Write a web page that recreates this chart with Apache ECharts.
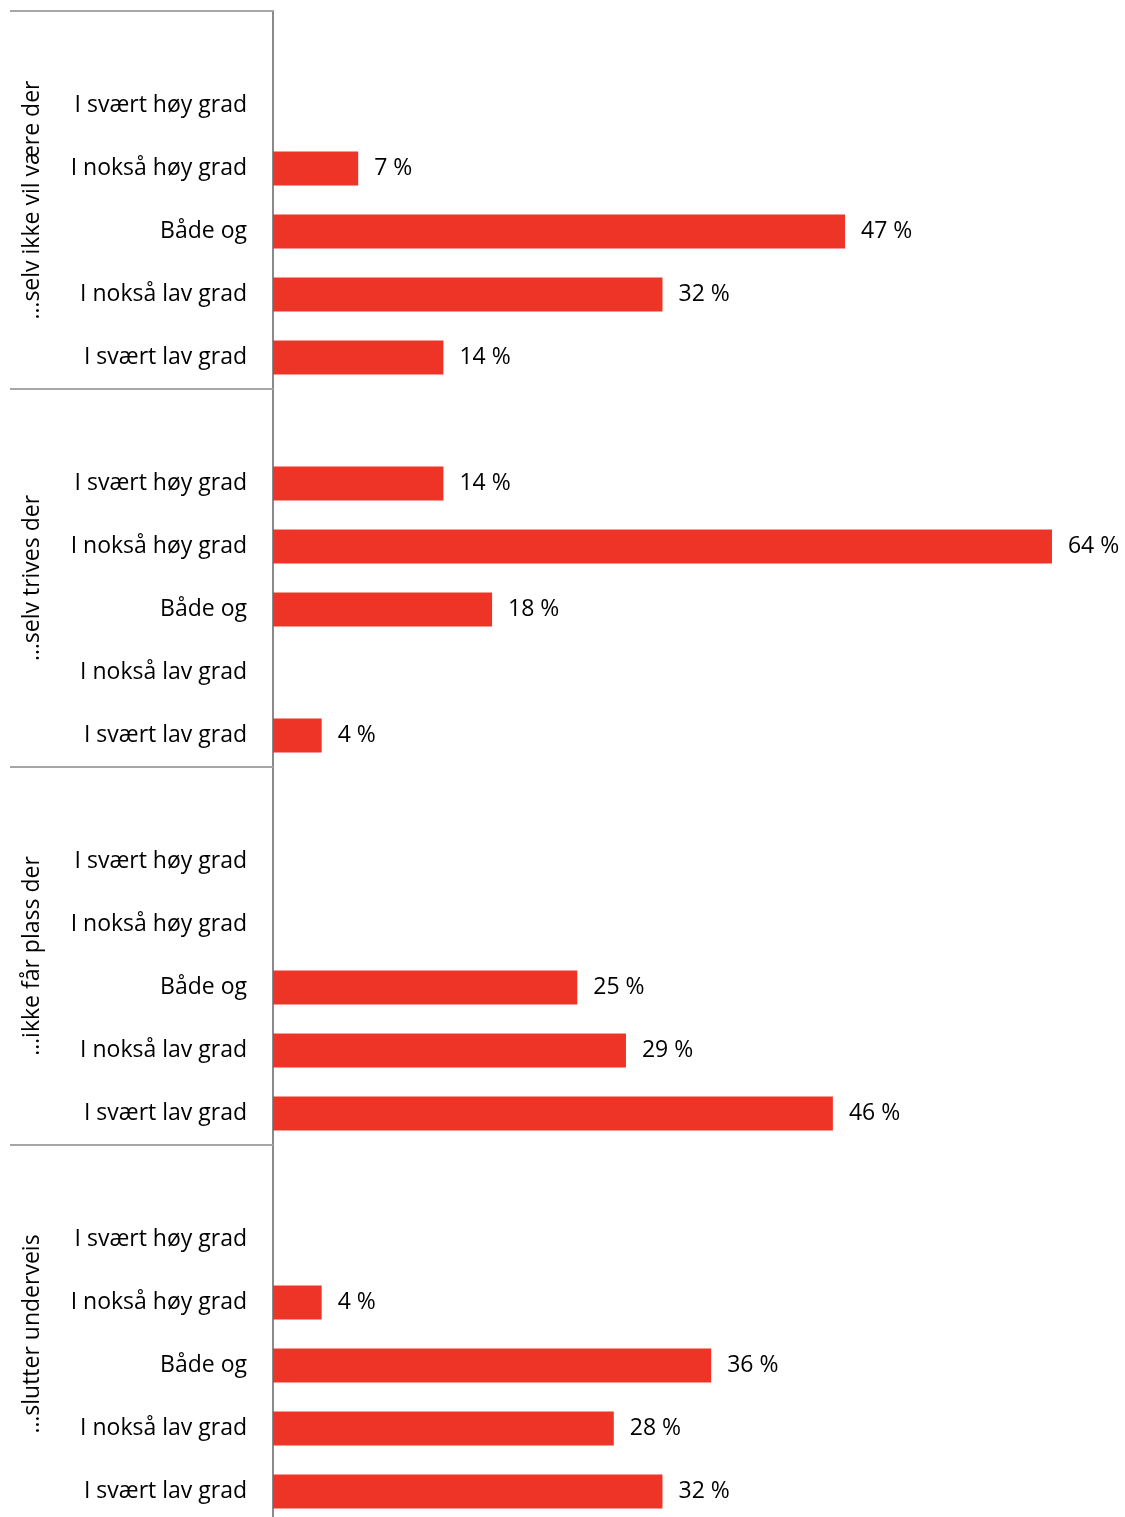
<!DOCTYPE html>
<html>
<head>
<meta charset="utf-8">
<script src="https://cdn.jsdelivr.net/npm/echarts@6/dist/echarts.min.js"></script>
<style>html,body{margin:0;padding:0;background:#fff;overflow:hidden;}#c{width:1125px;height:1523px;}</style>
</head>
<body>
<div id="c"></div>
<script>
const groups = ['…selv ikke vil være der', '…selv trives der', '…ikke får plass der', '…slutter underveis'];
const levels = ['I svært høy grad', 'I nokså høy grad', 'Både og', 'I nokså lav grad', 'I svært lav grad'];
const values1 = [null, 7, 47, 32, 14];
const values2 = [14, 64, 18, null, 4];
const values3 = [null, null, 25, 29, 46];
const values4 = [null, 4, 36, 28, 32];

const allValues = [values1, values2, values3, values4];
const categories = [];
const data = [];
allValues.forEach(vals => {
  categories.push('');
  data.push(null);
  levels.forEach((l, i) => { categories.push(l); data.push(vals[i]); });
});

const FONT = 'Open Sans';
const FS = 23;
const chart = echarts.init(document.getElementById('c'), null, {renderer: 'canvas'});
chart.setOption({
  animation: false,
  grid: {left: 273, right: 0, top: 11, bottom: 0, containLabel: false},
  xAxis: {type: 'value', min: 0, max: 70, show: false},
  yAxis: [
    {
      type: 'category', data: categories, inverse: true, position: 'left',
      axisLine: {show: true, lineStyle: {color: '#8a8a8a', width: 2}},
      axisTick: {show: false},
      axisLabel: {fontFamily: FONT, fontSize: FS, color: '#000', margin: 26, interval: 0}
    },
    {
      type: 'category', data: groups, inverse: true, position: 'left',
      axisLine: {show: false},
      axisTick: {show: true, length: 263, lineStyle: {color: '#a6a6a6', width: 2}},
      axisLabel: {fontFamily: FONT, fontSize: FS, color: '#000', rotate: 90, margin: 229, interval: 0}
    }
  ],
  series: [{
    type: 'bar', yAxisIndex: 0, data: data, barWidth: 34,
    itemStyle: {color: '#EE3427'},
    label: {show: true, position: 'right', distance: 16, fontFamily: FONT, fontSize: FS, color: '#000',
      formatter: p => p.value + ' %'}
  }]
});
</script>
</body>
</html>
